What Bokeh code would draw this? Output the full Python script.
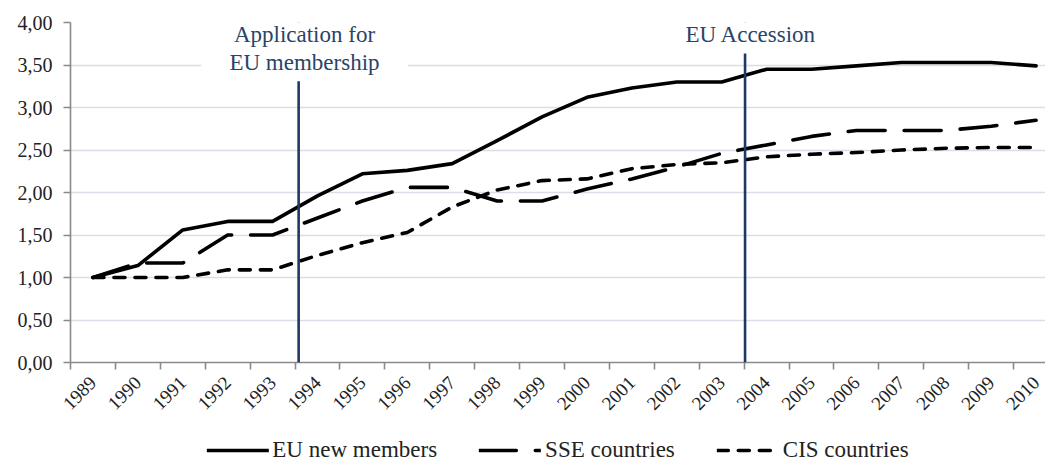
import math
from bokeh.plotting import figure
from bokeh.layouts import column
from bokeh.models import (Range1d, FixedTicker, CustomJSTickFormatter, Legend, LegendItem,
                          Span, BoxAnnotation, Label)
from bokeh.embed import file_html
from bokeh.resources import INLINE

years = list(range(1989, 2011))
eu_new = [1.00, 1.14, 1.56, 1.66, 1.66, 1.96, 2.22, 2.26, 2.34, 2.61, 2.89, 3.12, 3.23, 3.30, 3.30,
          3.45, 3.45, 3.49, 3.53, 3.53, 3.53, 3.49]
sse = [1.00, 1.17, 1.17, 1.50, 1.50, 1.70, 1.90, 2.06, 2.06, 1.90, 1.90, 2.04, 2.16, 2.30, 2.46,
       2.56, 2.66, 2.73, 2.73, 2.73, 2.78, 2.85]
cis = [1.00, 1.00, 1.00, 1.09, 1.09, 1.26, 1.41, 1.53, 1.83, 2.03, 2.14, 2.16, 2.28, 2.33, 2.35,
       2.42, 2.45, 2.47, 2.50, 2.52, 2.53, 2.53]
series_names = ["EU new members", "SSE countries", "CIS countries"]
series_dash = ["solid", "37 19", "11 10"]
y_ticks = [0.0, 0.5, 1.0, 1.5, 2.0, 2.5, 3.0, 3.5, 4.0]

event_lines = [["Application for", "EU membership"], ["EU Accession"]]
event_x = [1993.58, 2003.52]
event_cover_bottom = [3.31, 3.635]

FONT = "'Liberation Serif', serif"
NAVY = "#1f3864"
TEXT_NAVY = "#2a4468"
GREY = "#8a8a8a"
W = 1045

p = figure(width=W, height=426, x_range=Range1d(1988.5, 2010.21), y_range=Range1d(0, 4),
           output_backend="svg", toolbar_location=None,
           min_border_left=70, min_border_right=0, min_border_top=22, min_border_bottom=64)
p.outline_line_color = None
p.background_fill_color = "white"

# grid
p.xgrid.visible = False
p.ygrid.ticker = FixedTicker(ticks=y_ticks[1:])
p.ygrid.grid_line_color = "#d9dee6"
p.ygrid.grid_line_width = 1.6

# y axis
ya = p.yaxis[0]
ya.ticker = FixedTicker(ticks=y_ticks)
ya.formatter = CustomJSTickFormatter(code="return tick.toFixed(2).replace('.', ',');")
ya.axis_line_color = GREY
ya.axis_line_width = 1.6
ya.major_tick_line_color = GREY
ya.major_tick_line_width = 1.6
ya.major_tick_out = 7
ya.major_tick_in = 0
ya.minor_tick_line_color = None
ya.major_label_standoff = 11
ya.major_label_text_font = FONT
ya.major_label_text_font_size = "20px"
ya.major_label_text_color = "#222222"

# x axis
xa = p.xaxis[0]
boundaries = [y - 0.5 for y in years] + [years[-1] + 0.5]
xa.ticker = FixedTicker(ticks=years, minor_ticks=boundaries)
xa.formatter = CustomJSTickFormatter(code="return String(Math.round(tick));")
xa.axis_line_color = GREY
xa.axis_line_width = 1.6
xa.major_tick_line_color = None
xa.major_tick_out = 0
xa.major_tick_in = 0
xa.minor_tick_line_color = GREY
xa.minor_tick_line_width = 1.6
xa.minor_tick_out = 7
xa.minor_tick_in = 0
xa.major_label_orientation = math.pi / 4
xa.major_label_standoff = 10
xa.major_label_text_font = FONT
xa.major_label_text_font_size = "19px"
xa.major_label_text_color = "#222222"

series = [eu_new, sse, cis]
for vals, dash in zip(series, series_dash):
    p.line(years, vals, line_color="black", line_width=3.6, line_dash=dash,
           line_join="round", line_cap="round")

# event markers
for ex in event_x:
    p.add_layout(Span(location=ex, dimension="height", line_color=NAVY, line_width=2.6))
for ex, cb, lines in zip(event_x, event_cover_bottom, event_lines):
    half = 2.3 if len(lines) > 1 else 1.93
    p.add_layout(BoxAnnotation(left=ex + 0.13 - half, right=ex + 0.13 + half, bottom=cb, top=4.3,
                               fill_color="white", fill_alpha=1.0, line_color=None,
                               level="annotation"))
for ex, cb, lines in zip(event_x, event_cover_bottom, event_lines):
    for i, t in enumerate(lines):
        p.add_layout(Label(x=ex + 0.13, y=3.855 - i * 0.33, text=t, text_align="center",
                           text_baseline="alphabetic", text_font=FONT, text_font_size="23px",
                           text_color=TEXT_NAVY))

# legend strip below the chart
lg = figure(width=W, height=48, x_range=Range1d(0, 1), y_range=Range1d(0, 1),
            x_axis_type=None, y_axis_type=None, output_backend="svg", toolbar_location=None,
            min_border_left=42, min_border_right=0, min_border_top=0, min_border_bottom=0)
lg.outline_line_color = None
lg.xgrid.visible = False
lg.ygrid.visible = False
rs = []
for vals, dash in zip(series, series_dash):
    rs.append(lg.line(years, vals, line_color="black", line_width=3.6, line_dash=dash,
                      line_cap="round"))
legend = Legend(items=[LegendItem(label=n, renderers=[r]) for n, r in zip(series_names, rs)],
                orientation="horizontal", location="center",
                label_text_font=FONT, label_text_font_size="23px", label_text_color="#222222",
                glyph_width=62, glyph_height=20, label_standoff=4, spacing=42, padding=2,
                border_line_color=None, background_fill_alpha=0)
lg.add_layout(legend, "center")

layout = column(p, lg, spacing=0)
open("out.html", "w").write(file_html(layout, INLINE))
